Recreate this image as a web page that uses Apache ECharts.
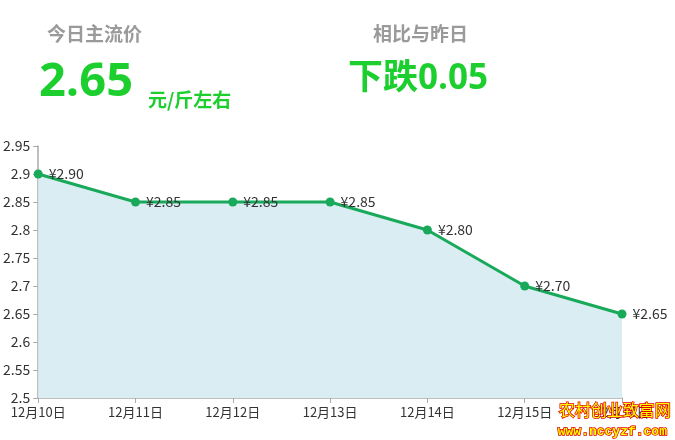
<!DOCTYPE html>
<html>
<head>
<meta charset="utf-8">
<script src="https://cdn.jsdelivr.net/npm/echarts@6/dist/echarts.min.js"></script>
<style>html,body{margin:0;padding:0;background:#fff;}#c{width:675px;height:440px;}</style>
</head>
<body>
<div id="c"></div>
<script>
var categories = ['12月10日','12月11日','12月12日','12月13日','12月14日','12月15日','12月16日'];
var prices = [2.90, 2.85, 2.85, 2.85, 2.80, 2.70, 2.65];
var yTicks = { min: 2.5, max: 2.95, interval: 0.05 };
var headerTexts = { todayTitle: '今日主流价', todayValue: '2.65', unit: '元/斤左右', compareTitle: '相比与昨日', compareValue: '下跌0.05' };
var watermark = ['农村创业致富网', 'www.nccyzf.com'];

var chart = echarts.init(document.getElementById('c'));
var font = '"Noto Sans CJK SC", "Noto Sans", sans-serif';
var green = '#1ccf2f';
chart.setOption({
  animation: false,
  backgroundColor: '#fff',
  grid: { left: 37, right: 53, top: 146, bottom: 42, containLabel: false },
  xAxis: {
    type: 'category', data: categories, boundaryGap: false,
    axisLine: { lineStyle: { color: '#aaa', width: 1.5 } },
    axisTick: { alignWithLabel: true, length: 5, lineStyle: { color: '#aaa' } },
    axisLabel: { color: '#333', fontSize: 13, fontFamily: font, margin: 8, interval: 0 }
  },
  yAxis: {
    type: 'value', min: yTicks.min, max: yTicks.max, interval: yTicks.interval,
    axisLine: { show: true, lineStyle: { color: '#aaa', width: 1.5 } },
    axisTick: { show: true, length: 5, lineStyle: { color: '#aaa' } },
    axisLabel: { color: '#333', fontSize: 14, fontFamily: font, margin: 8 },
    splitLine: { show: false }
  },
  series: [{
    type: 'line', data: prices,
    symbol: 'circle', symbolSize: 9,
    lineStyle: { color: '#19a95a', width: 3 },
    itemStyle: { color: '#19a95a' },
    areaStyle: { color: '#daedf2', opacity: 1 },
    label: { show: true, position: 'right', distance: 6, color: '#333', fontSize: 14, fontFamily: font,
      formatter: function (p) { return '¥' + p.value.toFixed(2); } }
  }],
  graphic: [
    { type: 'text', left: 47, top: 24, style: { text: headerTexts.todayTitle, fill: '#9a9a9a', font: 'bold 19px ' + font } },
    { type: 'text', left: 39, top: 59, style: { text: headerTexts.todayValue, fill: green, font: 'bold 47px "Open Sans", ' + font } },
    { type: 'text', left: 148, top: 90, style: { text: headerTexts.unit, fill: green, font: 'bold 19px ' + font } },
    { type: 'text', left: 373, top: 24, style: { text: headerTexts.compareTitle, fill: '#9a9a9a', font: 'bold 19px ' + font } },
    { type: 'text', left: 348, top: 62, style: { text: headerTexts.compareValue, fill: green, font: 'bold 35px "Open Sans", ' + font } },
    { type: 'text', left: 558, top: 401, z: 100, style: { text: watermark[0], fill: '#ffff00', stroke: '#e00000', lineWidth: 1.5, font: '16px ' + font } },
    { type: 'text', left: 557, top: 424, z: 100, style: { text: watermark[1], fill: '#ffff00', stroke: '#e00000', lineWidth: 1.5, font: 'bold 13px "Liberation Mono", "DejaVu Sans Mono", monospace' } }
  ]
});
</script>
</body>
</html>
